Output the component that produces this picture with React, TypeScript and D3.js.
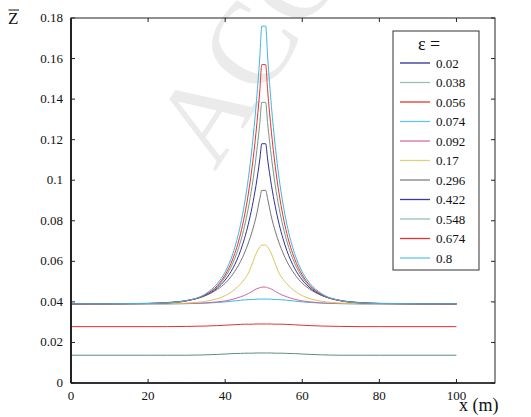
import React from "react";
import * as d3 from "d3";

// sample positions along x (m)
const xs = [0, 20, 25, 30, 35, 38, 40, 42, 44, 45, 46, 47, 48, 49, 49.5, 50.5, 51, 52, 53, 54, 55, 56, 58, 60, 62, 65, 70, 75, 80, 100];

const epsLabels = ["0.02", "0.038", "0.056", "0.074", "0.092", "0.17", "0.296", "0.422", "0.548", "0.674", "0.8"];
const colors = ["#2e2e9a", "#5f8f7c", "#e83030", "#3fb6e0", "#d2649e", "#d8c760", "#777777", "#2e2e9a", "#6f9c88", "#e83030", "#3fb6e0"];
const legendColors = ["#2e2e9a", "#9bbfae", "#e83030", "#60c8e8", "#d870a8", "#e0d080", "#808080", "#3a3aa8", "#9bbfae", "#e83030", "#60c8e8"];

const z002 = [0, 0, 0, 0, 0, 0, 0, 0, 0, 0, 0, 0, 0, 0, 0, 0, 0, 0, 0, 0, 0, 0, 0, 0, 0, 0, 0, 0, 0, 0];
const z038 = [0.0137, 0.0137, 0.0137, 0.0137, 0.0139, 0.0141, 0.0143, 0.0145, 0.0146, 0.0147, 0.0147, 0.0147, 0.0148, 0.0148, 0.0148, 0.0148, 0.0148, 0.0148, 0.0147, 0.0147, 0.0147, 0.0146, 0.0145, 0.0143, 0.0141, 0.0139, 0.0137, 0.0137, 0.0137, 0.0137];
const z056 = [0.0278, 0.0278, 0.0278, 0.0279, 0.0281, 0.0283, 0.0285, 0.0287, 0.0289, 0.029, 0.029, 0.029, 0.0291, 0.0291, 0.0291, 0.0291, 0.0291, 0.0291, 0.029, 0.029, 0.029, 0.0289, 0.0287, 0.0285, 0.0283, 0.0281, 0.0279, 0.0278, 0.0278, 0.0278];
const z074 = [0.039, 0.039, 0.039, 0.0391, 0.0394, 0.0397, 0.04, 0.0404, 0.0408, 0.041, 0.0411, 0.0412, 0.0413, 0.0414, 0.0414, 0.0414, 0.0414, 0.0413, 0.0412, 0.0411, 0.041, 0.0408, 0.0404, 0.04, 0.0397, 0.0394, 0.0391, 0.039, 0.039, 0.039];
const z092 = [0.039, 0.039, 0.0391, 0.0392, 0.0395, 0.04, 0.0405, 0.0413, 0.0425, 0.0432, 0.0441, 0.0452, 0.0463, 0.047, 0.0473, 0.0473, 0.047, 0.0463, 0.0452, 0.0441, 0.0432, 0.0425, 0.0413, 0.0405, 0.04, 0.0395, 0.0392, 0.0391, 0.039, 0.039];
const z017 = [0.039, 0.0391, 0.0391, 0.0394, 0.0403, 0.0416, 0.0431, 0.0454, 0.0489, 0.0512, 0.0541, 0.0587, 0.0637, 0.0671, 0.068, 0.068, 0.0671, 0.0637, 0.0587, 0.0541, 0.0512, 0.0489, 0.0454, 0.0431, 0.0416, 0.0403, 0.0394, 0.0391, 0.0391, 0.039];
const z296 = [0.039, 0.0393, 0.0397, 0.0407, 0.0432, 0.0462, 0.0492, 0.0537, 0.06, 0.0641, 0.069, 0.0748, 0.0818, 0.091, 0.095, 0.095, 0.091, 0.0818, 0.0748, 0.069, 0.0641, 0.06, 0.0537, 0.0492, 0.0462, 0.0432, 0.0407, 0.0397, 0.0393, 0.039];
const z422 = [0.039, 0.0392, 0.0396, 0.0406, 0.0433, 0.0469, 0.0508, 0.0566, 0.0653, 0.0712, 0.0783, 0.087, 0.0975, 0.1105, 0.118, 0.118, 0.1105, 0.0975, 0.087, 0.0783, 0.0712, 0.0653, 0.0566, 0.0508, 0.0469, 0.0433, 0.0406, 0.0396, 0.0392, 0.039];
const z548 = [0.039, 0.0392, 0.0395, 0.0406, 0.0436, 0.0476, 0.0522, 0.0592, 0.0699, 0.0772, 0.0862, 0.0974, 0.1113, 0.1284, 0.1384, 0.1384, 0.1284, 0.1113, 0.0974, 0.0862, 0.0772, 0.0699, 0.0592, 0.0522, 0.0476, 0.0436, 0.0406, 0.0395, 0.0392, 0.039];
const z674 = [0.039, 0.0392, 0.0395, 0.0405, 0.0437, 0.0481, 0.0533, 0.0613, 0.0737, 0.0824, 0.0932, 0.1067, 0.1236, 0.1446, 0.157, 0.157, 0.1446, 0.1236, 0.1067, 0.0932, 0.0824, 0.0737, 0.0613, 0.0533, 0.0481, 0.0437, 0.0405, 0.0395, 0.0392, 0.039];
const z08 = [0.039, 0.0392, 0.0395, 0.0406, 0.0441, 0.0491, 0.0548, 0.0639, 0.0783, 0.0883, 0.1008, 0.1167, 0.1364, 0.1613, 0.176, 0.176, 0.1613, 0.1364, 0.1167, 0.1008, 0.0883, 0.0783, 0.0639, 0.0548, 0.0491, 0.0441, 0.0406, 0.0395, 0.0392, 0.039];

const series = [z002, z038, z056, z074, z092, z017, z296, z422, z548, z674, z08];
const xTicks = [0, 20, 40, 60, 80, 100];
const yTicks = [0, 0.02, 0.04, 0.06, 0.08, 0.1, 0.12, 0.14, 0.16, 0.18];

const W = 531, H = 417;
const left = 71, right = 495, top = 18, bottom = 383;
const font = "Liberation Serif, DejaVu Serif, serif";

export default function App() {
  const x = d3.scaleLinear().domain([0, 110]).range([left, right]);
  const y = d3.scaleLinear().domain([0, 0.18]).range([bottom, top]);
  const line = d3.line<number>()
    .x((d, i) => x(xs[i]))
    .y(d => y(d))
    .curve(d3.curveMonotoneX);

  const tick = 4;
  return (
    <svg width={W} height={H} style={{ position: "absolute", left: 0, top: 0, background: "#fff", fontFamily: font }}>
      {/* watermark */}
      <text x={215} y={172} fontSize={118} fill="#ebebeb" transform="rotate(-57 215 172)">ACC</text>

      {series.map((s, i) => (
        <path key={i} d={line(s) || ""} fill="none" stroke={colors[i]} strokeWidth={1} />
      ))}

      {/* frame */}
      <rect x={left} y={top} width={right - left} height={bottom - top} fill="none" stroke="#222" strokeWidth={1} />
      <line x1={left} x2={left} y1={top} y2={bottom} stroke="#222" strokeWidth={2} />
      <line x1={left} x2={right} y1={bottom} y2={bottom} stroke="#222" strokeWidth={1.5} />

      {xTicks.map(t => (
        <g key={"x" + t}>
          <line x1={x(t)} x2={x(t)} y1={bottom} y2={bottom - tick} stroke="#222" />
          <line x1={x(t)} x2={x(t)} y1={top} y2={top + tick} stroke="#222" />
          <text x={x(t)} y={bottom + 17} fontSize={13} textAnchor="middle" fill="#111">{t}</text>
        </g>
      ))}
      {yTicks.map(t => (
        <g key={"y" + t}>
          <line x1={left} x2={left + tick} y1={y(t)} y2={y(t)} stroke="#222" />
          <line x1={right} x2={right - tick} y1={y(t)} y2={y(t)} stroke="#222" />
          <text x={63} y={y(t) + 4} fontSize={13} textAnchor="end" fill="#111">{t}</text>
        </g>
      ))}

      <text x={8} y={24} fontSize={17} fill="#111">Z</text>
      <line x1={8.5} x2={19} y1={10} y2={10} stroke="#111" strokeWidth={1} />
      <text x={459} y={411} fontSize={18} fill="#111">x (m)</text>

      {/* legend */}
      <rect x={393} y={31} width={86} height={239} fill="#fff" stroke="#333" strokeWidth={1} />
      <text x={418} y={50} fontSize={18} fill="#111">ε =</text>
      {epsLabels.map((lab, i) => {
        const ly = 63 + i * 19.5;
        return (
          <g key={lab}>
            <line x1={400} x2={430} y1={ly} y2={ly} stroke={legendColors[i]} strokeWidth={1.3} />
            <text x={436} y={ly + 4.5} fontSize={13} fill="#111">{lab}</text>
          </g>
        );
      })}
    </svg>
  );
}
